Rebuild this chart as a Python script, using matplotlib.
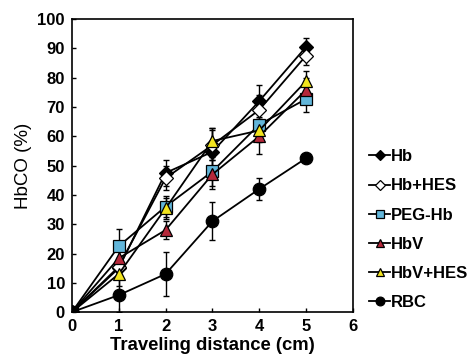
import matplotlib.pyplot as plt
import numpy as np

plt.rcParams['font.family'] = ['Liberation Sans', 'DejaVu Sans']

x = [0, 1, 2, 3, 4, 5]
names = ['Hb', 'Hb+HES', 'PEG-Hb', 'HbV', 'HbV+HES', 'RBC']

hb = [0, 15, 47.5, 54.7, 72, 90.5]
hb_err = [0, 3, 4.5, 8, 5.5, 3]
hb_hes = [0, 15.5, 45.7, 57, 69, 87.5]
hb_hes_err = [0, 3, 4, 5, 5, 3]
peg_hb = [0, 22.5, 36, 48, 64, 72.7]
peg_hb_err = [0, 6, 3.5, 5, 5, 4.5]
hbv = [0, 18.4, 28, 47, 60, 75.8]
hbv_err = [0, 4, 3, 5, 6, 4]
hbv_hes = [0, 13, 35.4, 58.4, 62, 78.8]
hbv_hes_err = [0, 4, 3.5, 4.5, 4, 3.5]
rbc = [0, 5.8, 13, 31, 42, 52.5]
rbc_err = [0, 5.8, 7.5, 6.5, 3.7, 0]

series = [hb, hb_hes, peg_hb, hbv, hbv_hes, rbc]
errs = [hb_err, hb_hes_err, peg_hb_err, hbv_err, hbv_hes_err, rbc_err]
markers = ['D', 'D', 's', '^', '^', 'o']
faces = ['black', 'white', '#62b6da', '#b5283a', '#f2e41e', 'black']
sizes = [7, 7, 9, 9, 9, 9]

fig = plt.figure(figsize=(4.73, 3.60), dpi=100)
ax = fig.add_axes([0.152, 0.133, 0.594, 0.814])

handles = []
for y, e, m, fc, ms, name in zip(series, errs, markers, faces, sizes, names):
    ax.errorbar(x, y, yerr=e, color='black', lw=1.2, elinewidth=1, capsize=2.5, capthick=1,
                fmt='none', zorder=2)
    h, = ax.plot(x, y, color='black', lw=1.3, marker=m, ms=ms, mfc=fc, mec='black', mew=0.9,
                 label=name, zorder=3)
    handles.append(h)

ax.set_xlim(0, 6)
ax.set_ylim(0, 100)
ax.set_xticks(range(0, 7))
ax.set_yticks(range(0, 101, 10))
ax.tick_params(direction='in', length=3, width=1, labelsize=12, pad=5)
for lab in ax.get_xticklabels() + ax.get_yticklabels():
    lab.set_fontweight('bold')
for s in ax.spines.values():
    s.set_linewidth(1.2)
ax.set_xlabel('Traveling distance (cm)', fontsize=13.3, fontweight='bold', labelpad=2)
ax.set_ylabel('HbCO (%)', fontsize=13.5, labelpad=4)

leg = fig.legend(handles=handles, loc='upper left', bbox_to_anchor=(0.748, 0.627),
                 frameon=False, handlelength=1.3, handletextpad=0.05, labelspacing=0.85,
                 markerscale=0.7, prop={'size': 12, 'weight': 'bold'})

fig.savefig('out.png', dpi=100)
